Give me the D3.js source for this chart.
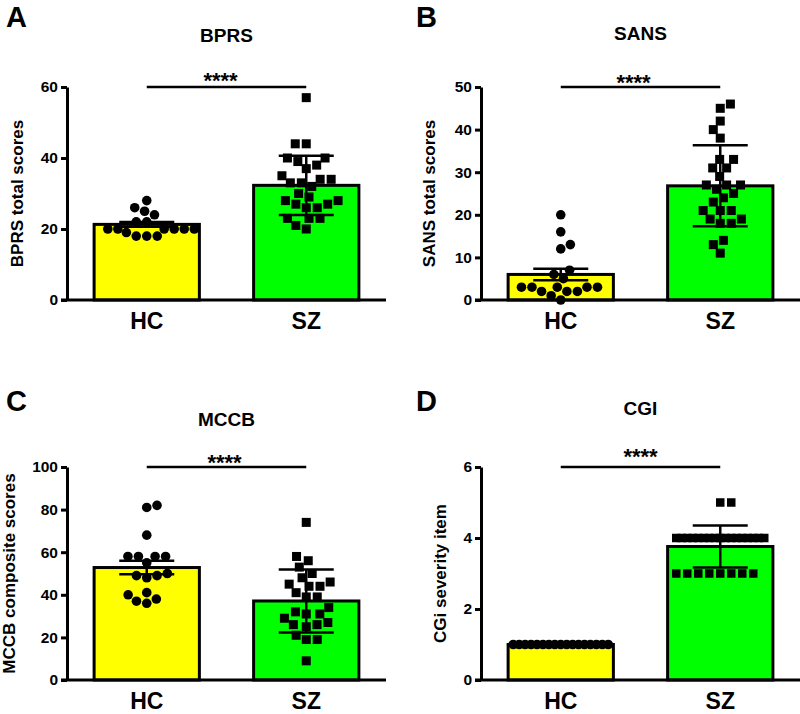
<!DOCTYPE html>
<html>
<head>
<meta charset="utf-8">
<script src="https://cdn.jsdelivr.net/npm/d3@7"></script>
<style>
  html, body { margin: 0; padding: 0; background: #fff; }
  svg { display: block; font-family: 'Liberation Sans', Arial, sans-serif; }
</style>
</head>
<body>
<svg id="chart" width="800" height="714"></svg>
<script>
// ---------------- DATA ----------------
const groups = ["HC", "SZ"];
const panelLetters = ["A", "B", "C", "D"];
const panelTitles = ["BPRS", "SANS", "MCCB", "CGI"];
const yAxisTitles = ["BPRS total scores", "SANS total scores", "MCCB composite scores", "CGi severity item"];
const yDomainMax = [60, 50, 100, 6];
const yTickValues = [[0, 20, 40, 60], [0, 10, 20, 30, 40, 50], [0, 20, 40, 60, 80, 100], [0, 2, 4, 6]];
const sigLabels = ["****", "****", "****", "****"];

// bar heights (group means) and error-bar half lengths
const barMeans = [[21.3, 32.3], [6.0, 26.8], [52.8, 37.1], [1.0, 3.76]];
const errHalf  = [[0.7, 8.35], [1.35, 9.5], [3.2, 14.8], [0, 0.59]];

// individual scores
const bprsHC = [28, 26, 25, 24, 22, 22, 20, 20, 20, 20, 20, 20, 19, 18, 18, 18];
const bprsSZ = [57, 44, 44, 40, 40, 39, 38, 37, 35, 34, 34, 33, 33, 32, 30, 29, 28, 28, 27, 27, 26, 26, 23, 23, 23, 21, 20];
const sansHC = [20, 16, 13, 12, 7, 6, 5, 3, 3, 3, 3, 3, 2, 2, 2, 1, 0];
const sansSZ = [46, 45, 42, 40, 38, 33, 33, 31, 31, 29, 27, 27, 27, 26, 25, 24, 23, 21, 21, 21, 19, 19, 18, 18, 14, 13, 11];
const mccbHC = [82, 81, 68, 58, 58, 58, 58, 55, 50, 49, 49, 48, 41, 40, 38, 37, 36];
const mccbSZ = [74, 58, 56, 53, 50, 48, 46, 45, 44, 44, 41, 39, 39, 34, 32, 31, 31, 29, 27, 26, 26, 25, 21, 19, 19, 9];
const cgiHC  = [1, 1, 1, 1, 1, 1, 1, 1, 1, 1, 1, 1, 1, 1, 1, 1, 1];
const cgiSZ  = [5, 5, 4, 4, 4, 4, 4, 4, 4, 4, 4, 4, 4, 4, 4, 4, 4, 4, 4, 3, 3, 3, 3, 3, 3, 3, 3];

const pointSets = [[bprsHC, bprsSZ], [sansHC, sansSZ], [mccbHC, mccbSZ], [cgiHC, cgiSZ]];
const barColors = ["#FFFF00", "#00FF00"];

// ---------------- LAYOUT ----------------
const layout = [
  {x0: 67,  y0: 300, yTop: 87,  titleY: 42,  letterX: 6,   letterY: 27,  yTitleX: 17,  starDx: -6, starDy: 1},
  {x0: 481, y0: 300, yTop: 87,  titleY: 40,  letterX: 416, letterY: 27,  yTitleX: 429, starDx: -7, starDy: 2.6},
  {x0: 67,  y0: 680, yTop: 467, titleY: 426, letterX: 6,   letterY: 411, yTitleX: 9,   starDx: -2, starDy: 2.6},
  {x0: 481, y0: 680, yTop: 467, titleY: 415, letterX: 416, letterY: 411, yTitleX: 440, starDx: 0,  starDy: -3}
];
const plotW = 319;

const svg = d3.select("#chart");
svg.append("rect").attr("width", 800).attr("height", 714).attr("fill", "#fff");

// Beeswarm layout (bottom-up, nearest-to-centre, alternating sides)
function swarm(values, yScale, D, limit) {
  const pts = values.map((v, i) => ({v, y: yScale(v), x: 0, i}));
  const order = pts.slice().sort((a, b) => a.v - b.v || a.i - b.i);
  const placed = [];
  let flip = false;
  order.forEach(p => {
    const cands = [0];
    placed.forEach(q => {
      const dy = Math.abs(p.y - q.y);
      if (dy < D) {
        const dx = Math.sqrt(D * D - dy * dy);
        cands.push(q.x + dx, q.x - dx);
      }
    });
    const ok = cands.filter(c => placed.every(q => (c - q.x) ** 2 + (p.y - q.y) ** 2 >= D * D - 0.01));
    ok.sort((a, b) => (Math.abs(a) - Math.abs(b)) || (flip ? a - b : b - a));
    p.x = ok[0];
    flip = !flip;
    placed.push(p);
  });
  const rows = d3.group(pts, d => d.v);
  rows.forEach(r => {
    const m = d3.max(r, d => Math.abs(d.x));
    if (m > limit) r.forEach(d => { d.x *= limit / m; });
  });
  return pts;
}

panelTitles.forEach((title, k) => {
  const L = layout[k];
  const g = svg.append("g");
  const x = d3.scaleBand().domain(groups).range([L.x0, L.x0 + plotW]).paddingInner(0.34).paddingOuter(0.17);
  const y = d3.scaleLinear().domain([0, yDomainMax[k]]).range([L.y0, L.yTop]);

  // bars
  g.selectAll("rect.bar").data(groups).join("rect")
    .attr("class", "bar")
    .attr("x", d => x(d))
    .attr("width", x.bandwidth())
    .attr("y", (d, i) => y(barMeans[k][i]))
    .attr("height", (d, i) => y(0) - y(barMeans[k][i]))
    .attr("fill", (d, i) => barColors[i])
    .attr("stroke", "#000")
    .attr("stroke-width", 3);

  // points
  groups.forEach((grp, gi) => {
    const cx = x(grp) + x.bandwidth() / 2;
    const isSq = gi === 1;
    const D = isSq ? 11 : 10.5;
    const pts = swarm(pointSets[k][gi], y, D, gi === 0 ? 47.5 : 44);
    if (!isSq) {
      g.selectAll(null).data(pts).join("circle")
        .attr("cx", d => cx + d.x).attr("cy", d => d.y).attr("r", 4.8).attr("fill", "#000");
    } else {
      const s = k === 3 ? 8.5 : 9;
      g.selectAll(null).data(pts).join("rect")
        .attr("x", d => cx + d.x - s / 2).attr("y", d => d.y - s / 2)
        .attr("width", s).attr("height", s).attr("fill", "#000");
    }
  });

  // error bars
  groups.forEach((grp, gi) => {
    const e = errHalf[k][gi];
    if (e <= 0) return;
    const cx = x(grp) + x.bandwidth() / 2;
    const m = barMeans[k][gi];
    const capW = 55;
    g.append("line").attr("x1", cx).attr("x2", cx).attr("y1", y(m - e)).attr("y2", y(m + e))
      .attr("stroke", "#000").attr("stroke-width", 2.5);
    [m - e, m + e].forEach(v => {
      g.append("line").attr("x1", cx - capW / 2).attr("x2", cx + capW / 2).attr("y1", y(v)).attr("y2", y(v))
        .attr("stroke", "#000").attr("stroke-width", 2.5);
    });
  });

  // y axis
  const yAxis = d3.axisLeft(y).tickValues(yTickValues[k]).tickFormat(d3.format("d"))
    .tickSize(6).tickSizeOuter(0).tickPadding(3);
  const ag = g.append("g").attr("transform", `translate(${L.x0},0)`).call(yAxis);
  ag.select(".domain").attr("stroke", "#000").attr("stroke-width", 3);
  ag.selectAll(".tick line").attr("stroke", "#000").attr("stroke-width", 3);
  ag.selectAll(".tick text").attr("font-size", 15.5).attr("font-weight", "bold").attr("fill", "#000")
    .attr("font-family", "'Liberation Sans', Arial, sans-serif");

  // baseline (x axis)
  g.append("line").attr("x1", L.x0 - 6).attr("x2", L.x0 + plotW).attr("y1", L.y0).attr("y2", L.y0)
    .attr("stroke", "#000").attr("stroke-width", 3);

  // x labels
  g.selectAll("text.xl").data(groups).join("text").attr("class", "xl")
    .attr("x", d => x(d) + x.bandwidth() / 2).attr("y", L.y0 + 29)
    .attr("text-anchor", "middle").attr("font-size", 23).attr("font-weight", "bold").text(d => d);

  // significance bar
  const sx1 = x("HC") + x.bandwidth() / 2, sx2 = x("SZ") + x.bandwidth() / 2;
  const sy = y(yDomainMax[k]);
  g.append("line").attr("x1", sx1).attr("x2", sx2).attr("y1", sy).attr("y2", sy)
    .attr("stroke", "#000").attr("stroke-width", 2.6);
  g.append("text").attr("x", (sx1 + sx2) / 2 + L.starDx).attr("y", sy + L.starDy)
    .attr("text-anchor", "middle").attr("font-size", 22).attr("font-weight", "bold").text(sigLabels[k]);

  // title
  g.append("text").attr("x", L.x0 + plotW / 2).attr("y", L.titleY)
    .attr("text-anchor", "middle").attr("font-size", 19).attr("font-weight", "bold").text(title);

  // panel letter
  g.append("text").attr("x", L.letterX).attr("y", L.letterY)
    .attr("font-size", 29).attr("font-weight", "bold").text(panelLetters[k]);

  // y axis title
  g.append("text").attr("transform", `translate(${L.yTitleX},${(L.y0 + L.yTop) / 2}) rotate(-90)`)
    .attr("text-anchor", "middle").attr("dy", "0.35em")
    .attr("font-size", 17).attr("font-weight", "bold").text(yAxisTitles[k]);
});
</script>
</body>
</html>
